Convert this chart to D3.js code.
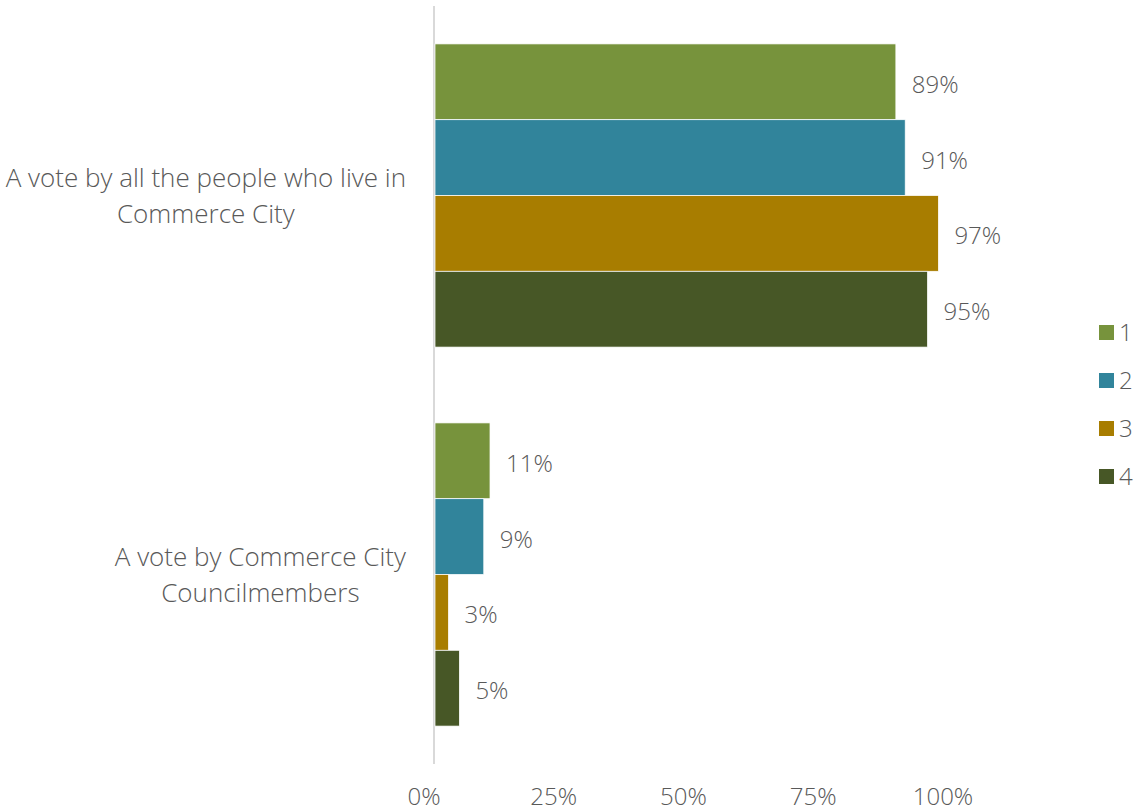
<!DOCTYPE html>
<html>
<head>
<meta charset="utf-8">
<script src="https://cdn.jsdelivr.net/npm/d3@7"></script>
<style>
  html, body { margin: 0; padding: 0; background: #ffffff; }
  svg { display: block; }
  text { font-family: "Open Sans", "Noto Sans", sans-serif; font-weight: 300; fill: #595959; }
</style>
</head>
<body>
<svg id="chart" width="1138" height="812"></svg>
<script>
// ---- data ----
const categories = [
  ["A vote by all the people who live in", "Commerce City"],
  ["A vote by Commerce City", "Councilmembers"]
];
const seriesNames = ["1", "2", "3", "4"];
const series1 = [0.888, 0.106];
const series2 = [0.906, 0.094];
const series3 = [0.970, 0.026];
const series4 = [0.949, 0.047];
const allSeries = [series1, series2, series3, series4];
const tickValues = [0, 0.25, 0.5, 0.75, 1];
const colors = ["#77933C", "#31849B", "#A87D00", "#475726"];

// ---- layout ----
const svg = d3.select("#chart");
const FS = 24;      // numbers / legend
const FS_CAT = 26;  // category labels
const x = d3.scaleLinear().domain([0, 1]).range([435, 954]);
const y0 = d3.scaleBand().domain(d3.range(categories.length)).range([6, 764])
  .paddingInner(0.2).paddingOuter(0.1);
const y1 = d3.scaleBand().domain(d3.range(seriesNames.length)).range([0, y0.bandwidth()]);
const fmt = d3.format(".0%");

// axis line
svg.append("line")
  .attr("x1", 434).attr("x2", 434)
  .attr("y1", y0.range()[0]).attr("y2", y0.range()[1])
  .attr("stroke", "#d9d9d9").attr("stroke-width", 2);

// bars
const groups = svg.selectAll("g.cat").data(categories).join("g")
  .attr("class", "cat")
  .attr("transform", (d, i) => `translate(0,${y0(i)})`);

groups.each(function(cat, ci) {
  const g = d3.select(this);
  allSeries.forEach((s, si) => {
    g.append("rect")
      .attr("x", x(0))
      .attr("y", y1(si))
      .attr("width", x(s[ci]) - x(0))
      .attr("height", y1.bandwidth())
      .attr("fill", colors[si])
      .attr("stroke", "#ffffff").attr("stroke-width", 0.75);
    g.append("text")
      .attr("x", x(s[ci]) + 16)
      .attr("y", y1(si) + y1.bandwidth() / 2 + 11)
      .attr("font-size", FS)
      .text(fmt(s[ci]));
  });
});

// category labels (wrapped, centered within a right-aligned block)
groups.each(function(cat, ci) {
  const g = d3.select(this);
  const tmp = cat.map(line => g.append("text").attr("font-size", FS_CAT).text(line));
  const maxW = d3.max(tmp, t => t.node().getComputedTextLength());
  tmp.forEach(t => t.remove());
  const cx = 406 - maxW / 2;
  const mid = y0.bandwidth() / 2;
  cat.forEach((line, li) => {
    g.append("text")
      .attr("x", cx)
      .attr("y", mid - 8.5 + li * 36)
      .attr("text-anchor", "middle")
      .attr("font-size", FS_CAT)
      .text(line);
  });
});

// x axis (labels only)
const axis = d3.axisBottom(x).tickValues(tickValues).tickFormat(fmt).tickSize(0);
const ag = svg.append("g").attr("transform", "translate(-11.5,0)").call(axis);
ag.select(".domain").remove();
ag.attr("font-family", null).attr("font-size", null);
ag.selectAll("text")
  .attr("y", 805).attr("dy", null)
  .attr("font-size", FS)
  .style("fill", "#595959");

// legend
const lg = svg.append("g");
seriesNames.forEach((n, i) => {
  const cy = 332.5 + i * 48;
  lg.append("rect").attr("x", 1099).attr("y", cy - 7.5).attr("width", 15).attr("height", 15)
    .attr("fill", colors[i]);
  lg.append("text").attr("x", 1119).attr("y", cy + 8.5).attr("font-size", FS).text(n);
});
</script>
</body>
</html>
